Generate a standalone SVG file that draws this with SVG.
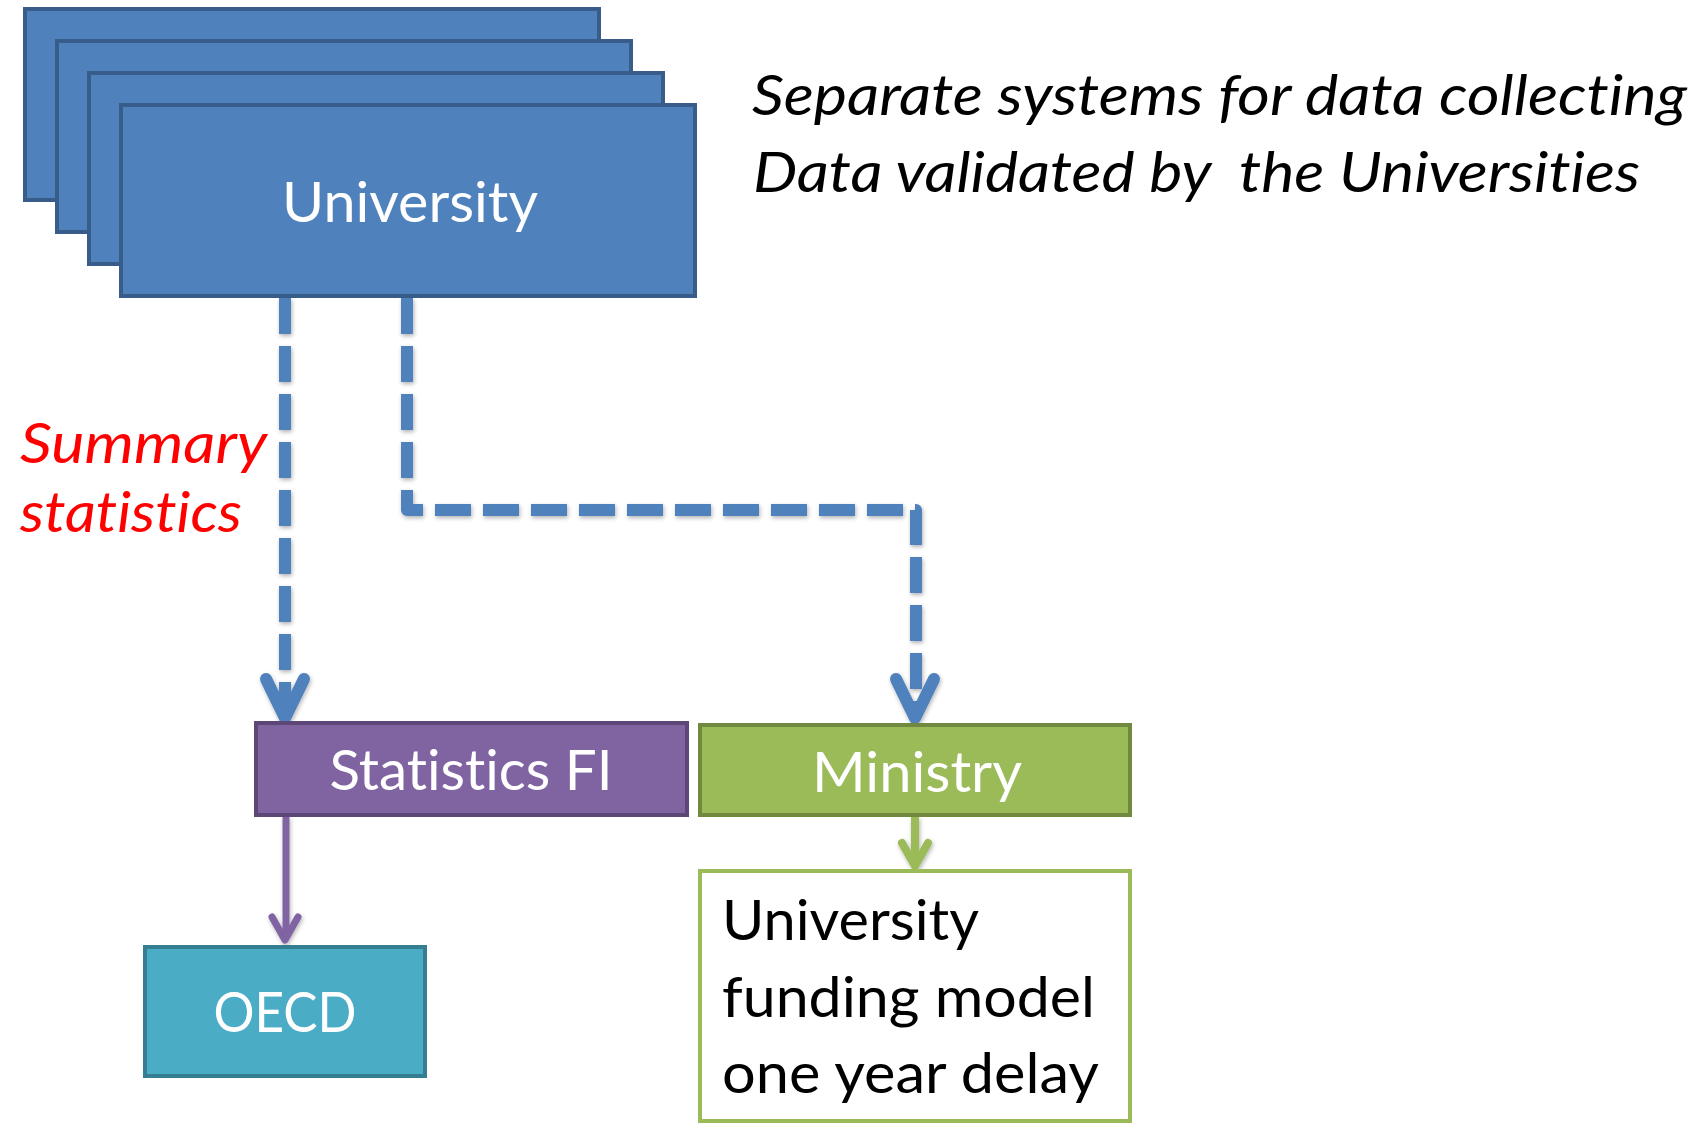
<svg xmlns="http://www.w3.org/2000/svg" width="1699" height="1124" viewBox="0 0 1699 1124">
<style>
.uni{fill:#4F81BD;stroke:#385D8A;stroke-width:4}
.lbl{font-family:Lato,"Liberation Sans",sans-serif;font-size:56px;font-variant-ligatures:none}
.w{fill:#FFFFFF}
.k{fill:#000000}
.it{font-style:italic}
.red{fill:#FF0000}
.dash{fill:none;stroke:#4F81BD;stroke-width:12;stroke-dasharray:36 12;stroke-linejoin:round}
.head{fill:none;stroke-linecap:round;stroke-linejoin:round}
</style>
<defs>
<filter id="sh" x="-20%" y="-20%" width="140%" height="140%">
<feDropShadow dx="1" dy="2" stdDeviation="2" flood-color="#000" flood-opacity="0.3"/>
</filter>
</defs>
<rect width="1699" height="1124" fill="#FFFFFF"/>
<g id="university">
<rect class="uni" x="25" y="9" width="574" height="191"/>
<rect class="uni" x="57" y="41" width="574" height="191"/>
<rect class="uni" x="89" y="73" width="574" height="191"/>
<rect class="uni" x="121" y="105" width="574" height="191"/>
<text class="lbl w" x="410" y="222" text-anchor="middle" textLength="256" lengthAdjust="spacingAndGlyphs">University</text>
</g>
<g id="notes">
<text class="lbl k it" x="752" y="115" textLength="935" lengthAdjust="spacingAndGlyphs">Separate systems for data collecting</text>
<text class="lbl k it" x="753" y="192" xml:space="preserve" textLength="887" lengthAdjust="spacingAndGlyphs">Data validated by  the Universities</text>
</g>
<g id="summary-label">
<text class="lbl red it" x="20" y="463" textLength="247" lengthAdjust="spacingAndGlyphs">Summary</text>
<text class="lbl red it" x="20" y="532" textLength="222" lengthAdjust="spacingAndGlyphs">statistics</text>
</g>
<g id="connectors" filter="url(#sh)">
<path class="dash" d="M285,298 V712"/>
<polyline class="head" stroke="#4F81BD" stroke-width="12" points="266,679 285,718 304,679"/>
<path class="dash" d="M407,298 V510 H916 V712"/>
<polyline class="head" stroke="#4F81BD" stroke-width="12" points="896,679 915,718 934,679"/>
<path d="M286,817 V938" stroke="#8064A2" stroke-width="7" fill="none"/>
<polyline class="head" stroke="#8064A2" stroke-width="7" points="272,917 285,940 298,917"/>
<path d="M915,817 V866" stroke="#9BBB59" stroke-width="8" fill="none"/>
<polyline class="head" stroke="#9BBB59" stroke-width="8" points="902,843 915,866 928,843"/>
</g>
<g id="statistics-fi">
<rect x="256" y="723" width="431" height="92" fill="#8064A2" stroke="#5C4776" stroke-width="4"/>
<text class="lbl w" x="471" y="790" text-anchor="middle" textLength="283" lengthAdjust="spacingAndGlyphs">Statistics FI</text>
</g>
<g id="ministry">
<rect x="700" y="725" width="430" height="90" fill="#9BBB59" stroke="#71893F" stroke-width="4"/>
<text class="lbl w" x="917" y="792" text-anchor="middle" textLength="210" lengthAdjust="spacingAndGlyphs">Ministry</text>
</g>
<g id="oecd">
<rect x="145" y="947" width="280" height="129" fill="#4BACC6" stroke="#357D91" stroke-width="4"/>
<text class="lbl w" x="285" y="1032" text-anchor="middle" textLength="143" lengthAdjust="spacingAndGlyphs">OECD</text>
</g>
<g id="funding-model">
<rect x="700" y="871" width="430" height="250" fill="#FFFFFF" stroke="#9BBB59" stroke-width="4"/>
<text class="lbl k" x="722" y="940" textLength="257" lengthAdjust="spacingAndGlyphs">University</text>
<text class="lbl k" x="722" y="1017" textLength="373" lengthAdjust="spacingAndGlyphs">funding model</text>
<text class="lbl k" x="722" y="1093" textLength="377" lengthAdjust="spacingAndGlyphs">one year delay</text>
</g>
</svg>
